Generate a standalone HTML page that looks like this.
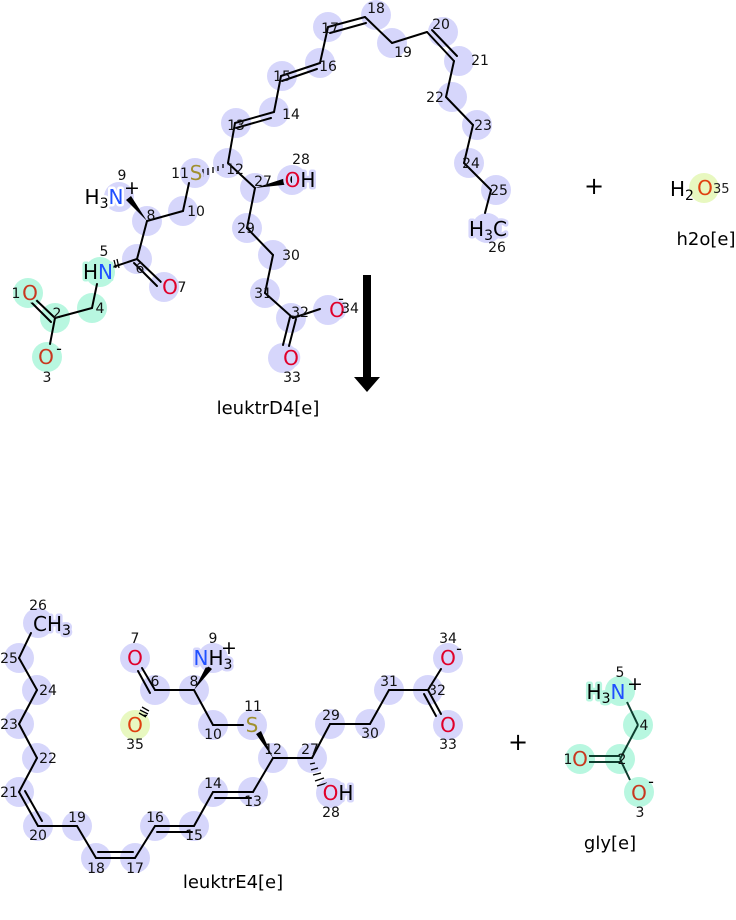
<!DOCTYPE html>
<html><head><meta charset="utf-8"><style>
html,body{margin:0;padding:0;background:#fff}
svg{display:block}
text{font-family:"DejaVu Sans","Liberation Sans",sans-serif}
.p circle{fill:#d6d6fb}
.g circle{fill:#b8f7e0}
.b line{stroke:#000;stroke-width:2;stroke-linecap:round}
.gb line{stroke:#0e3d2e;stroke-width:2}
.n{font-size:14px;fill:#111;text-anchor:middle}
.a{font-size:20px;text-anchor:middle;paint-order:stroke;stroke-width:5;stroke-linejoin:round}
.O{fill:#e0002a}.N{fill:#2050ff}.S{fill:#a09030}.K{fill:#000}
.lp{stroke:#d6d6fb}.lg{stroke:#b8f7e0}.lw{stroke:#fff}.ly{stroke:#e8f8c0}
.og{fill:#c83820}
.lab{font-size:18px;text-anchor:middle;fill:#000}
</style></head><body>
<svg width="736" height="920" viewBox="0 0 736 920" xmlns="http://www.w3.org/2000/svg">
<g class="p">
<circle cx="376" cy="15" r="15"/><circle cx="328" cy="27" r="15"/><circle cx="392" cy="43" r="15"/>
<circle cx="443" cy="32" r="15"/><circle cx="459" cy="61" r="15"/><circle cx="452" cy="97" r="15"/>
<circle cx="477" cy="125" r="15"/><circle cx="469" cy="163" r="15"/><circle cx="496" cy="190" r="15"/>
<circle cx="487" cy="228" r="15"/><circle cx="320" cy="63" r="15"/><circle cx="282" cy="76" r="15"/>
<circle cx="274" cy="112" r="15"/><circle cx="236" cy="123" r="15"/><circle cx="228" cy="163" r="15"/>
<circle cx="195" cy="173" r="15"/><circle cx="255" cy="188" r="15"/><circle cx="292" cy="180" r="15"/>
<circle cx="247" cy="228" r="15"/><circle cx="273" cy="255" r="15"/><circle cx="265" cy="293" r="15"/>
<circle cx="291" cy="318" r="15"/><circle cx="283" cy="358" r="15"/><circle cx="328" cy="310" r="15"/>
<circle cx="183" cy="211" r="15"/><circle cx="147" cy="221" r="15"/><circle cx="119" cy="197" r="15"/>
<circle cx="137" cy="259" r="15"/><circle cx="164" cy="287" r="15"/>
</g>
<g class="g">
<circle cx="100" cy="272" r="15"/><circle cx="92" cy="308" r="15"/><circle cx="55" cy="318" r="15"/>
<circle cx="28" cy="293" r="15"/><circle cx="47" cy="357" r="15"/>
</g>
<g class="b">
<line x1="328" y1="27" x2="365" y2="17"/><line x1="330" y1="33" x2="366" y2="23"/>
<line x1="365" y1="17" x2="392" y2="43"/><line x1="392" y1="43" x2="427" y2="32"/>
<line x1="427" y1="32" x2="454" y2="61"/><line x1="432" y1="30" x2="457" y2="56"/>
<line x1="454" y1="61" x2="446" y2="97"/><line x1="446" y1="97" x2="473" y2="125"/>
<line x1="473" y1="125" x2="464" y2="163"/><line x1="464" y1="163" x2="491" y2="190"/>
<line x1="491" y1="190" x2="485" y2="213"/>
<line x1="328" y1="27" x2="320" y2="63"/>
<line x1="320" y1="63" x2="281" y2="76"/><line x1="317" y1="69" x2="282" y2="81"/>
<line x1="281" y1="76" x2="274" y2="112"/>
<line x1="274" y1="112" x2="235" y2="123"/><line x1="271" y1="118" x2="236" y2="128"/>
<line x1="235" y1="123" x2="228" y2="163"/><line x1="228" y1="163" x2="255" y2="188"/>
<line x1="255" y1="188" x2="247" y2="228"/><line x1="247" y1="228" x2="273" y2="255"/>
<line x1="273" y1="255" x2="265" y2="293"/><line x1="265" y1="293" x2="293" y2="318"/>
<line x1="293" y1="318" x2="320" y2="309"/>
<line x1="290" y1="317" x2="283" y2="345"/><line x1="296" y1="319" x2="289" y2="346"/>
<line x1="189" y1="183" x2="183" y2="211"/><line x1="183" y1="211" x2="147" y2="221"/>
<line x1="147" y1="221" x2="137" y2="259"/>
<line x1="137" y1="259" x2="161" y2="282"/><line x1="134" y1="263" x2="157" y2="286"/>
<line x1="137" y1="259" x2="110" y2="268"/>
<line x1="97" y1="284" x2="92" y2="308"/><line x1="92" y1="308" x2="55" y2="318"/>
<line x1="55" y1="318" x2="34" y2="298"/><line x1="51" y1="322" x2="31" y2="302"/>
<line x1="55" y1="318" x2="50" y2="344"/>
</g>
<polygon points="255,188 292,176 292,184" fill="#000"/>
<polygon points="147,221 126,200 131,196" fill="#000"/>
<g stroke="#000" stroke-width="1.3">
<line x1="203" y1="169" x2="203" y2="177"/><line x1="208" y1="168" x2="208" y2="175"/><line x1="213" y1="167" x2="213" y2="173"/><line x1="218" y1="166" x2="218" y2="171"/><line x1="223" y1="164" x2="223" y2="168"/>
<line x1="114" y1="260" x2="116" y2="268"/><line x1="117" y1="259" x2="119" y2="268"/>
</g>
<text class="a K lp" x="488" y="236">H<tspan font-size="14" dy="4">3</tspan><tspan dy="-4">C</tspan></text>
<text class="a S lp" x="196" y="180">S</text>
<text class="a O lp" x="300" y="187">O<tspan class="K">H</tspan></text>
<text class="a O lp" x="291" y="365">O</text>
<text class="a O lp" x="337" y="317">O</text>
<text class="a O lp" x="170" y="294">O</text>
<text class="a K lw" x="104" y="204">H<tspan font-size="14" dy="4">3</tspan><tspan dy="-4" class="N">N</tspan></text>
<text class="a K lg" x="98" y="279">H<tspan class="N">N</tspan></text>
<text class="a og lg" x="30" y="300">O</text>
<text class="a og lg" x="46" y="364">O</text>
<g class="n">
<text x="376" y="13">18</text><text x="330" y="33">17</text><text x="403" y="57">19</text><text x="441" y="29">20</text><text x="480" y="65">21</text><text x="435" y="102">22</text><text x="483" y="130">23</text><text x="471" y="168">24</text><text x="499" y="195">25</text><text x="497" y="252">26</text>
<text x="328" y="71">16</text><text x="282" y="81">15</text><text x="291" y="119">14</text><text x="236" y="130">13</text><text x="235" y="174">12</text><text x="180" y="178">11</text><text x="263" y="186">27</text><text x="301" y="164">28</text>
<text x="246" y="233">29</text><text x="291" y="260">30</text><text x="263" y="298">31</text><text x="300" y="317">32</text><text x="292" y="382">33</text><text x="350" y="313">34</text>
<text x="196" y="216">10</text><text x="151" y="220">8</text><text x="122" y="180">9</text><text x="140" y="273">6</text><text x="182" y="292">7</text><text x="104" y="256">5</text><text x="100" y="313">4</text><text x="57" y="318">2</text><text x="16" y="298">1</text><text x="47" y="382">3</text>
</g>
<text x="132" y="194" font-size="19" text-anchor="middle">+</text>
<text x="341" y="304" font-size="16" text-anchor="middle">-</text>
<text x="59" y="354" font-size="16" text-anchor="middle">-</text>
<rect x="363" y="275" width="8" height="103" fill="#000"/>
<polygon points="354,377 380,377 367,392" fill="#000"/>
<text class="lab" x="268" y="414">leuktrD4[e]</text>
<text x="594" y="194" font-size="24" text-anchor="middle">+</text>
<circle cx="704" cy="188" r="15" fill="#e8f8c0"/>
<text x="670" y="196" font-size="20">H<tspan font-size="14" dy="4">2</tspan></text>
<text x="705" y="195" font-size="20" fill="#e04010" text-anchor="middle">O</text>
<text x="713" y="193" font-size="13" fill="#222">35</text>
<text class="lab" x="706" y="245">h2o[e]</text>

<g class="p">
<circle cx="38" cy="623" r="15"/><circle cx="19" cy="658" r="15"/><circle cx="37" cy="690" r="15"/><circle cx="19" cy="724" r="15"/><circle cx="37" cy="758" r="15"/><circle cx="19" cy="792" r="15"/><circle cx="38" cy="826" r="15"/><circle cx="77" cy="826" r="15"/><circle cx="96" cy="858" r="15"/><circle cx="135" cy="858" r="15"/><circle cx="155" cy="826" r="15"/><circle cx="194" cy="826" r="15"/><circle cx="213" cy="792" r="15"/><circle cx="253" cy="792" r="15"/><circle cx="273" cy="758" r="15"/><circle cx="312" cy="758" r="15"/><circle cx="331" cy="793" r="15"/><circle cx="330" cy="724" r="15"/><circle cx="370" cy="724" r="15"/><circle cx="389" cy="690" r="15"/><circle cx="428" cy="690" r="15"/><circle cx="448" cy="725" r="15"/><circle cx="448" cy="658" r="15"/><circle cx="252" cy="725" r="15"/><circle cx="213" cy="725" r="15"/><circle cx="194" cy="690" r="15"/><circle cx="213" cy="658" r="15"/><circle cx="155" cy="690" r="15"/><circle cx="135" cy="658" r="15"/>
</g>
<circle cx="135" cy="725" r="15" fill="#e8f8c0"/>
<g class="b">
<line x1="31" y1="633" x2="19" y2="658"/><line x1="19" y1="658" x2="37" y2="690"/><line x1="37" y1="690" x2="19" y2="724"/><line x1="19" y1="724" x2="37" y2="758"/><line x1="37" y1="758" x2="19" y2="792"/>
<line x1="19" y1="792" x2="38" y2="826"/><line x1="25" y1="791" x2="42" y2="821"/>
<line x1="38" y1="826" x2="77" y2="826"/><line x1="77" y1="826" x2="96" y2="858"/>
<line x1="96" y1="858" x2="135" y2="858"/><line x1="98" y1="852" x2="133" y2="852"/>
<line x1="135" y1="858" x2="155" y2="826"/>
<line x1="155" y1="826" x2="194" y2="826"/><line x1="157" y1="832" x2="192" y2="832"/>
<line x1="194" y1="826" x2="213" y2="792"/>
<line x1="213" y1="792" x2="253" y2="792"/><line x1="215" y1="798" x2="251" y2="798"/>
<line x1="253" y1="792" x2="273" y2="758"/><line x1="273" y1="758" x2="312" y2="758"/>
<line x1="312" y1="758" x2="330" y2="724"/><line x1="330" y1="724" x2="370" y2="724"/><line x1="370" y1="724" x2="389" y2="690"/><line x1="389" y1="690" x2="428" y2="690"/>
<line x1="428" y1="690" x2="441" y2="669"/>
<line x1="428" y1="690" x2="441" y2="714"/><line x1="424" y1="694" x2="436" y2="716"/>
<line x1="213" y1="725" x2="243" y2="725"/><line x1="213" y1="725" x2="194" y2="690"/><line x1="194" y1="690" x2="155" y2="690"/>
<line x1="155" y1="690" x2="142" y2="668"/><line x1="150" y1="693" x2="138" y2="671"/>
</g>
<polygon points="194,690 207,665 212,669" fill="#000"/>
<polygon points="273,758 256,734 261,731" fill="#000"/>
<g stroke="#000" stroke-width="1.3">
<line x1="315" y1="763" x2="310" y2="764"/><line x1="318" y1="768" x2="311" y2="770"/><line x1="321" y1="773" x2="313" y2="775"/><line x1="324" y1="778" x2="315" y2="781"/><line x1="327" y1="783" x2="317" y2="786"/>
<line x1="142" y1="707" x2="149" y2="711"/><line x1="140" y1="710" x2="148" y2="714"/><line x1="139" y1="713" x2="146" y2="717"/>
</g>
<text class="a K lp" x="52" y="631">CH<tspan font-size="14" dy="4">3</tspan></text>
<text class="a O lp" x="135" y="665">O</text>
<text x="135" y="732" font-size="20" fill="#e04010" text-anchor="middle">O</text>
<text class="a N lp" x="213" y="665">N<tspan class="K">H</tspan><tspan class="K" font-size="14" dy="4">3</tspan></text>
<text x="229" y="654" font-size="19" text-anchor="middle">+</text>
<text class="a S lp" x="252" y="732">S</text>
<text class="a O lp" x="338" y="800">O<tspan class="K">H</tspan></text>
<text class="a O lp" x="448" y="665">O</text>
<text class="a O lp" x="448" y="732">O</text>
<text x="459" y="654" font-size="16" text-anchor="middle">-</text>
<text x="145" y="720" font-size="16" text-anchor="middle">-</text>
<g class="n">
<text x="38" y="610">26</text><text x="9" y="663">25</text><text x="48" y="695">24</text><text x="9" y="729">23</text><text x="48" y="763">22</text><text x="9" y="797">21</text><text x="38" y="840">20</text><text x="77" y="822">19</text><text x="96" y="873">18</text><text x="135" y="873">17</text><text x="155" y="822">16</text><text x="194" y="840">15</text><text x="213" y="788">14</text><text x="253" y="806">13</text><text x="273" y="754">12</text><text x="310" y="754">27</text><text x="331" y="817">28</text><text x="331" y="720">29</text><text x="370" y="738">30</text><text x="389" y="686">31</text><text x="437" y="695">32</text><text x="448" y="749">33</text><text x="448" y="643">34</text><text x="253" y="711">11</text><text x="213" y="739">10</text><text x="194" y="686">8</text><text x="213" y="643">9</text><text x="155" y="686">6</text><text x="135" y="643">7</text><text x="135" y="749">35</text>
</g>
<text class="lab" x="233" y="888">leuktrE4[e]</text>
<text x="518" y="750" font-size="24" text-anchor="middle">+</text>
<g class="g"><circle cx="620" cy="691" r="15"/><circle cx="638" cy="725" r="15"/><circle cx="620" cy="759" r="15"/><circle cx="580" cy="759" r="15"/><circle cx="639" cy="792" r="15"/></g>
<g class="gb">
<line x1="627" y1="702" x2="638" y2="725"/><line x1="638" y1="725" x2="620" y2="759"/>
<line x1="620" y1="759" x2="630" y2="780"/>
<line x1="589" y1="756" x2="620" y2="756"/><line x1="589" y1="762" x2="620" y2="762"/>
</g>
<text class="a K lg" x="606" y="699">H<tspan font-size="14" dy="4">3</tspan><tspan dy="-4" class="N">N</tspan></text>
<text x="635" y="690" font-size="19" text-anchor="middle">+</text>
<text class="a og lg" x="580" y="766">O</text>
<text class="a og lg" x="639" y="800">O</text>
<text x="651" y="787" font-size="16" text-anchor="middle">-</text>
<g class="n"><text x="620" y="677">5</text><text x="644" y="730">4</text><text x="622" y="764">2</text><text x="568" y="764">1</text><text x="640" y="817">3</text></g>
<text class="lab" x="610" y="849">gly[e]</text>
</svg>
</body></html>
